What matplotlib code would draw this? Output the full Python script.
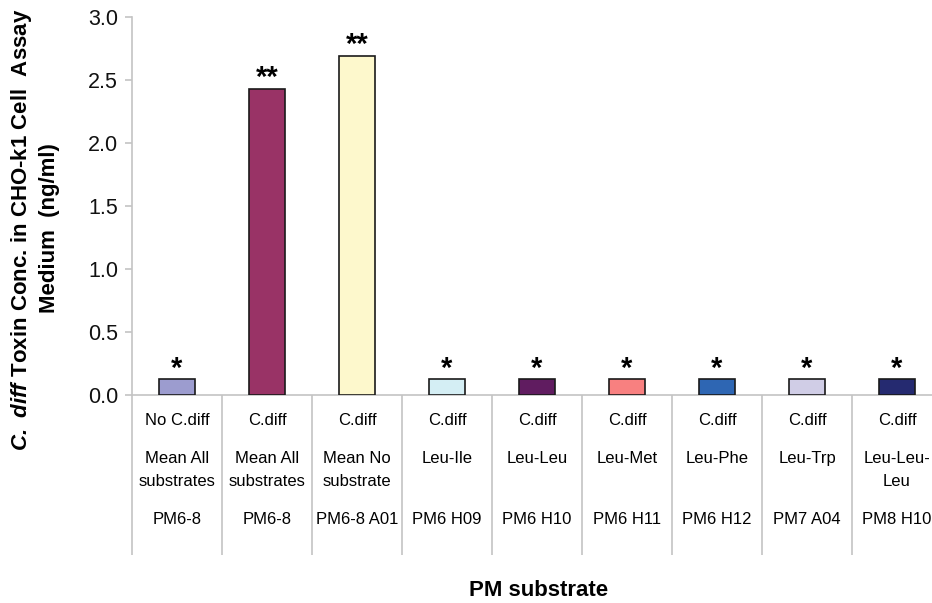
import matplotlib
matplotlib.use("Agg")
import matplotlib.pyplot as plt
from matplotlib.transforms import blended_transform_factory

plt.rcParams['font.family'] = ['Liberation Sans', 'DejaVu Sans']
plt.rcParams['mathtext.fontset'] = 'custom'
plt.rcParams['mathtext.rm'] = 'Liberation Sans'
plt.rcParams['mathtext.bf'] = 'Liberation Sans:bold'
plt.rcParams['mathtext.bfit'] = 'Liberation Sans:italic:bold'

# data
conditions = ["No C.diff", "C.diff", "C.diff", "C.diff", "C.diff",
              "C.diff", "C.diff", "C.diff", "C.diff"]
substrates = ["Mean All\nsubstrates", "Mean All\nsubstrates", "Mean No\nsubstrate",
              "Leu-Ile", "Leu-Leu", "Leu-Met", "Leu-Phe", "Leu-Trp", "Leu-Leu-\nLeu"]
wells = ["PM6-8", "PM6-8", "PM6-8 A01", "PM6 H09", "PM6 H10",
         "PM6 H11", "PM6 H12", "PM7 A04", "PM8 H10"]
toxin = [0.125, 2.43, 2.69, 0.125, 0.125, 0.125, 0.125, 0.125, 0.125]
signif = ["*", "**", "**", "*", "*", "*", "*", "*", "*"]
colors = ["#9c9ccf", "#993366", "#fdf8cc", "#d4eef4", "#601c60",
          "#f88080", "#2e66b3", "#d0cde6", "#252a70"]

W, H = 932, 603
fig = plt.figure(figsize=(W / 100, H / 100), dpi=100)
# right edge of the plot runs past the picture, like the original
ax = fig.add_axes([132 / W, 1 - 395 / H, 810 / W, 378 / H])

x = list(range(len(toxin)))
ax.bar(x, toxin, width=0.41, color=colors, edgecolor="#1a1a1a", linewidth=1.2, zorder=3)

for xi, v, s in zip(x, toxin, signif):
    ax.annotate(s, (xi, v), xytext=(0, 2), textcoords="offset points",
                ha="center", va="baseline", fontsize=21, fontweight="bold")

ax.set_xlim(-0.5, len(toxin) - 0.5)
ax.set_ylim(0, 3.0)
ax.set_yticks([0, 0.5, 1.0, 1.5, 2.0, 2.5, 3.0])
ax.set_yticklabels(["%.1f" % t for t in ax.get_yticks()], fontsize=15.5, color="#111111")

gray = "#c4c4c4"
for side in ["top", "right"]:
    ax.spines[side].set_visible(False)
ax.spines["left"].set_color(gray)
ax.spines["bottom"].set_color(gray)
ax.spines["left"].set_linewidth(1.2)
ax.spines["bottom"].set_linewidth(1.2)
ax.tick_params(axis="y", length=5, color=gray, width=1.2, pad=5)

# long separators between categories
ax.set_xticks([])
ax.set_xticks([i - 0.5 for i in range(len(toxin) + 1)], minor=True)
ax.tick_params(axis="x", which="minor", length=115, color=gray, width=1.2)
ax.tick_params(axis="x", which="major", length=0)

tr = blended_transform_factory(ax.transData, fig.transFigure)
fs = 12
for xi, c, sub, w in zip(x, conditions, substrates, wells):
    ax.text(xi, 1 - 425 / H, c, transform=tr, ha="center", va="baseline", fontsize=fs)
    for k, line in enumerate(sub.split("\n")):
        ax.text(xi, 1 - (463 + 23 * k) / H, line, transform=tr, ha="center",
                va="baseline", fontsize=fs)
    ax.text(xi, 1 - 524 / H, w, transform=tr, ha="center", va="baseline", fontsize=fs)

fig.text(539 / W, 1 - 591 / H, "PM substrate", ha="center", va="center",
         fontsize=16, fontweight="bold")

fig.text(22 / W, 1 - 230 / H, r"$\mathbfit{C.\ diff}$ Toxin Conc. in CHO-k1 Cell  Assay",
         rotation=90, ha="center", va="center", fontsize=16, fontweight="bold")
fig.text(50 / W, 1 - 228 / H, "Medium  (ng/ml)",
         rotation=90, ha="center", va="center", fontsize=16, fontweight="bold")

fig.savefig("out.png", dpi=100)
